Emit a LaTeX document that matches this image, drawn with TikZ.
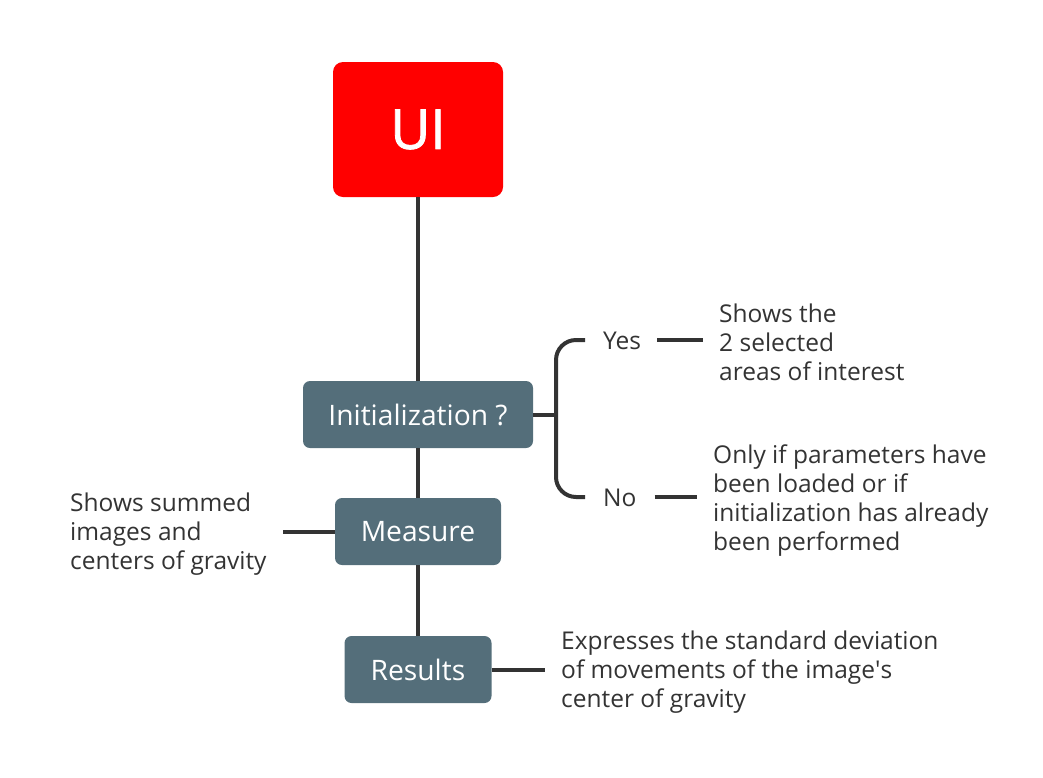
\documentclass[tikz,border=0pt]{standalone}
\usepackage{fontspec}
\setmainfont{Open Sans}
\usetikzlibrary{positioning,calc}
\definecolor{slate}{HTML}{546E7A}
\definecolor{ink}{HTML}{333333}

\begin{document}
\begin{tikzpicture}[x=1pt,y=-1pt,
		box/.style={fill=slate, rounded corners=7pt, text=white, inner sep=0pt,
			minimum height=67pt, font=\fontsize{28.2}{32}\selectfont},
		note/.style={anchor=west, align=left, inner sep=0pt, text=ink,
			font=\fontsize{24.5}{29}\selectfont},
		link/.style={draw=ink, line width=4pt}]
	
	\useasboundingbox (0,0) rectangle (1043,777);
	
	% main column
	\node[fill=red, rounded corners=10pt, text=white, inner sep=0pt,
	minimum width=170pt, minimum height=135pt,
	font=\fontsize{55}{60}\selectfont\addfontfeatures{FakeBold=1.5}] (ui) at (418,129.5) {UI};
	\node[box, minimum width=230pt] (init) at (418,414.5) {Initialization ?};
	\node[box, minimum width=166pt] (measure) at (418,531.5) {Measure};
	\node[box, minimum width=147pt] (results) at (418,669.5) {Results};
	
	\draw[link] (ui) -- (init);
	\draw[link] (init) -- (measure);
	\draw[link] (measure) -- (results);
	
	% branch of the question
	\node[note] (yes) at (603,341) {Yes};
	\node[note] (no) at (603,498) {No};
	\coordinate (fork) at (556,414.5);
	\draw[link] (init.east) -- (fork);
	\draw[link, rounded corners=20pt] ($(yes.west)+(-18,-1)$) -- ($(fork |- yes)+(0,-1)$)
	-- ($(fork |- no)+(0,-1)$) -- ($(no.west)+(-18,-1)$);
	
	% notes
	\node[note] (yesnote) at (719,342) {Shows the\\2 selected\\areas of interest};
	\node[note] (nonote) at (713,500.5) {Only if parameters have\\been loaded or if\\initialization has already\\been performed};
	\node[note] (sumnote) at (70,534.5) {Shows summed\\images and\\centers of gravity};
	\node[note] (devnote) at (561,672.5) {Expresses the standard deviation\\of movements of the image\textquotesingle s\\center of gravity};
	
	\draw[link] ($(yes.east)+(16,-1)$) -- ($(yesnote.west |- yes)+(-16,-1)$);
	\draw[link] ($(no.east)+(18,-1)$) -- ($(nonote.west |- no)+(-16,-1)$);
	\draw[link] (measure.west) -- ++(-52,0);
	\draw[link] (results.east) -- ++(53,0);
	
\end{tikzpicture}
\end{document}
